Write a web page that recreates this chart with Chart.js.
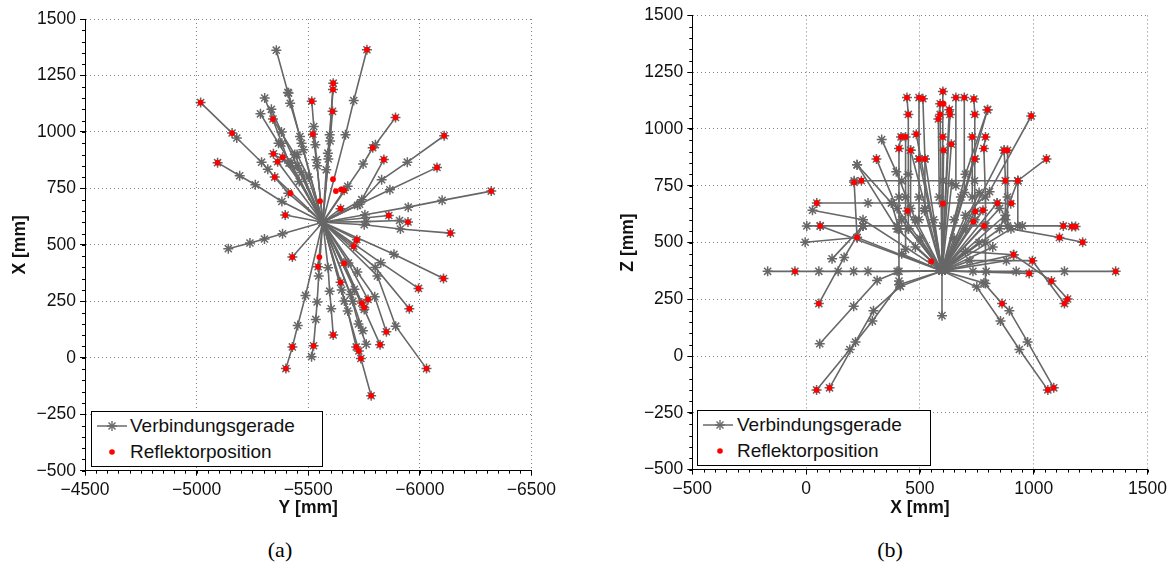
<!DOCTYPE html>
<html>
<head>
<meta charset="utf-8">
<script src="https://cdn.jsdelivr.net/npm/chart.js@4.4.1/dist/chart.umd.min.js"></script>
<style>
    body { margin: 0; background: #ffffff; width: 1171px; height: 563px; overflow: hidden; position: relative; font-family: "Liberation Sans", Arial, sans-serif; }
    canvas { position: absolute; top: 0; }
    .legende { position: absolute; background: #ffffff; border: 1.5px solid #000000; box-sizing: border-box; }
    .legende span { position: absolute; font-size: 19px; line-height: 20px; color: #111111; white-space: nowrap; }
    .legende svg { position: absolute; }
    .caption { position: absolute; top: 537px; font-family: "Liberation Serif", "DejaVu Serif", serif; font-size: 22px; transform: translateX(-50%); }
</style>
</head>
<body>
<canvas id="graficoLinks" width="560" height="520" style="left:0px"></canvas>
<canvas id="graficoRechts" width="563" height="520" style="left:608px"></canvas>

<div class="legende" style="left:91px;top:411px;width:232px;height:56px">
    <svg width="40" height="56" style="left:0;top:0">
        <line x1="5" y1="14" x2="35" y2="14" stroke="#6a6a6a" stroke-width="1.5"/>
        <g stroke="#6a6a6a" stroke-width="1.4">
            <line x1="15" y1="14" x2="25" y2="14"/><line x1="20" y1="9" x2="20" y2="19"/>
            <line x1="16.5" y1="10.5" x2="23.5" y2="17.5"/><line x1="16.5" y1="17.5" x2="23.5" y2="10.5"/>
        </g>
        <circle cx="20" cy="40" r="2.8" fill="#ff0000"/>
    </svg>
    <span style="left:38px;top:4px">Verbindungsgerade</span>
    <span style="left:38px;top:30px">Reflektorposition</span>
</div>
<div class="legende" style="left:697px;top:410px;width:234px;height:56px">
    <svg width="40" height="56" style="left:0;top:0">
        <line x1="5" y1="14" x2="35" y2="14" stroke="#6a6a6a" stroke-width="1.5"/>
        <g stroke="#6a6a6a" stroke-width="1.4">
            <line x1="17" y1="14" x2="27" y2="14"/><line x1="22" y1="9" x2="22" y2="19"/>
            <line x1="18.5" y1="10.5" x2="25.5" y2="17.5"/><line x1="18.5" y1="17.5" x2="25.5" y2="10.5"/>
        </g>
        <circle cx="22" cy="40" r="2.8" fill="#ff0000"/>
    </svg>
    <span style="left:39px;top:4px">Verbindungsgerade</span>
    <span style="left:39px;top:30px">Reflektorposition</span>
</div>

<div class="caption" style="left:280px">(a)</div>
<div class="caption" style="left:890px">(b)</div>

<script>
// (a) Y/X-Ansicht: Geraden vom Zentrum zu den Reflektoren [Y, X] in mm
const linksZentrum = [-5565, 600];
const linksStrahlen = [
    [[-5478, 921], [-5463, 980], [-5419, 1127], [-5409, 1175], [-5357, 1362]],
    [[-5470, 950], [-5412, 1172]],
    [[-5450, 850], [-5380, 1000], [-5335, 1100]],
    [[-5500, 800], [-5450, 900]],
    [[-5667, 987], [-5704, 1139], [-5763, 1364]],
    [[-5581, 832], [-5588, 906], [-5596, 987], [-5612, 1216]],
    [[-5590, 880], [-5611, 1188]],
    [[-5598, 960], [-5609, 1091]],
    [[-5411, 729], [-5319, 835], [-5291, 866], [-5180, 973], [-5159, 995], [-5018, 1130]],
    [[-5382, 692], [-5263, 766], [-5193, 806], [-5094, 864]],
    [[-5414, 862], [-5382, 950], [-5305, 1150]],
    [[-5422, 862], [-5367, 950], [-5286, 1080]],
    [[-5537, 877], [-5532, 943], [-5525, 1024], [-5516, 1136]],
    [[-5677, 759], [-5746, 858], [-5789, 930], [-5801, 943], [-5891, 1064]],
    [[-5721, 675], [-5829, 788], [-5944, 866], [-6109, 983]],
    [[-5740, 700], [-5839, 878]],
    [[-5730, 680], [-5866, 744], [-6077, 843]],
    [[-5754, 633], [-5948, 667], [-6100, 697], [-6320, 738]],
    [[-5751, 589], [-5913, 570], [-6137, 552]],
    [[-5760, 603], [-5909, 608], [-5947, 601]],
    [[-5861, 630]],
    [[-5540, 850], [-5521, 990]],
    [[-5440, 900], [-5342, 1057]],
    [[-5460, 780], [-5385, 888]],
    [[-5470, 820], [-5344, 903]],
    [[-5363, 868]],
    [[-5385, 549], [-5304, 526], [-5239, 508], [-5142, 483]],
    [[-5547, 362], [-5540, 247], [-5534, 170], [-5524, 53], [-5515, 5]],
    [[-5488, 276], [-5453, 143], [-5429, 48], [-5400, -48]],
    [[-5589, 399], [-5596, 295], [-5603, 217], [-5612, 101]],
    [[-5662, 251], [-5677, 207], [-5715, 48], [-5736, -3], [-5782, -168]],
    [[-5650, 300], [-5727, 30]],
    [[-5690, 280], [-5725, 150], [-5760, 60]],
    [[-5700, 250], [-5745, 120]],
    [[-5707, 303], [-5751, 214], [-5822, 58]],
    [[-5720, 380], [-5798, 270], [-5850, 115]],
    [[-5810, 362], [-5892, 140], [-6030, -48]],
    [[-5800, 400], [-5953, 217]],
    [[-5825, 421], [-5994, 307]],
    [[-5884, 458], [-6106, 351]],
    [[-5645, 334]],
    [[-5680, 420], [-5768, 258]],
    [[-5660, 420], [-5740, 242]],
    [[-5751, 223]],
    [[-5544, 403]],
    [[-5429, 446]],
    [[-5350, 800]],
    [[-5397, 632]],
    [[-5645, 660]],
    [[-5661, 742]],
    [[-5704, 494]],
    [[-5718, 523]]
];
const linksReflektoren = [
    [-5763, 1364], [-5612, 1216], [-5611, 1188], [-5609, 1091], [-5018, 1130], [-5516, 1136],
    [-5891, 1064], [-6109, 983], [-5342, 1057], [-5521, 990], [-5094, 864], [-5159, 995],
    [-5344, 903], [-5363, 868], [-5386, 888], [-5789, 930], [-5839, 878], [-6077, 843],
    [-5350, 800], [-5611, 791], [-5624, 738], [-5648, 745], [-5661, 742], [-6320, 738],
    [-5420, 729], [-5645, 660], [-5397, 632], [-5861, 630], [-5947, 601], [-6137, 552],
    [-5553, 694], [-5718, 523], [-5429, 446], [-5550, 446], [-5544, 403], [-5661, 418],
    [-5704, 494], [-5717, 520], [-6106, 351], [-5994, 307], [-5953, 217], [-5645, 334],
    [-5768, 258], [-5740, 242], [-5751, 223], [-5850, 115], [-5822, 58], [-5612, 101],
    [-5429, 48], [-5524, 53], [-5715, 48], [-5727, 30], [-5736, -3], [-5400, -48],
    [-6030, -48], [-5782, -168]
];
const linksTicksX = [-4500, -5000, -5500, -6000, -6500];
const linksTicksY = [-500, -250, 0, 250, 500, 750, 1000, 1250, 1500];

// (b) X/Z-Ansicht [X, Z] in mm
const rechtsZentrum = [597, 375];
const rechtsStrahlen = [
    [[400, 373], [272, 373], [209, 373], [141, 373], [56, 373], [-49, 373], [-169, 373]],
    [[733, 373], [791, 373], [923, 373], [1135, 373], [1360, 373]],
    [[597, 178]],
    [[600, 671], [600, 965], [601, 1165]],
    [[700, 620], [806, 724], [989, 1057]],
    [[850, 560], [930, 772], [1056, 868]],
    [[480, 600], [396, 811], [332, 953]],
    [[400, 560], [224, 842]],
    [[420, 600], [309, 868]],
    [[250, 600], [28, 642]],
    [[224, 522], [-4, 501]],
    [[900, 560], [1113, 522], [1215, 501]],
    [[700, 460], [912, 446], [1078, 330], [1149, 251]],
    [[720, 420], [994, 420], [1135, 231]],
    [[408, 373], [312, 333], [209, 219], [60, 54]],
    [[408, 314], [291, 154], [192, 29], [46, -149]],
    [[414, 307], [296, 200], [217, 62], [103, -140]],
    [[750, 304], [854, 154], [937, 29], [1062, -149]],
    [[781, 322], [861, 231], [893, 200], [973, 62], [1088, -140]],
    [[445, 639]], [[743, 637]], [[777, 642]], [[839, 674]], [[782, 573]],
    [[980, 364]], [[62, 573]], [[459, 906]], [[638, 933]], [[604, 906]],
    [[484, 977]], [[629, 1085]], [[632, 1064]], [[589, 1064]], [[550, 417]],
    [[735, 592]], [[911, 446]], [[797, 1085]], [[741, 868]], [[522, 868]],
    [[496, 868]], [[870, 906]], [[875, 620]], [[520, 640]], [[680, 700]],
    [[450, 560]], [[500, 520]], [[650, 520]], [[700, 560]], [[760, 500]],
    [[820, 480]], [[420, 450]], [[480, 480]], [[880, 420]], [[850, 650]],
    [[400, 650]], [[560, 600]], [[640, 760]], [[760, 720]]
];
const rechtsPfade = [
    [[3, 573], [62, 573], [250, 573], [400, 573], [600, 573], [790, 573], [950, 573], [1130, 573], [1167, 570], [1184, 570]],
    [[47, 674], [272, 674], [375, 674], [600, 674], [839, 674], [899, 671]],
    [[211, 772], [243, 772], [420, 772], [600, 772], [740, 772], [876, 772], [930, 772]],
    [[417, 965], [408, 914], [408, 700], [408, 560], [408, 330]],
    [[437, 965], [437, 700], [437, 470]],
    [[443, 1138], [449, 1064], [449, 800], [449, 560]],
    [[496, 1138], [496, 868], [496, 700], [496, 600]],
    [[513, 1133], [522, 868], [522, 650]],
    [[459, 906], [459, 650]],
    [[589, 1111], [581, 1044], [585, 700]],
    [[658, 1138], [658, 750]],
    [[695, 1138], [695, 720]],
    [[737, 1132], [741, 1064], [741, 868], [741, 600]],
    [[788, 965], [781, 914], [788, 700], [788, 500], [788, 320]],
    [[797, 1085], [700, 800], [650, 600]],
    [[870, 906], [876, 772], [876, 600]],
    [[885, 906], [885, 700], [885, 573]],
    [[930, 772], [930, 573]],
    [[211, 765], [224, 522]],
    [[56, 231], [167, 434], [250, 573]],
    [[114, 428], [250, 573]],
    [[224, 842], [375, 674], [408, 560]],
    [[730, 965], [730, 700]]
];
const rechtsReflektoren = [
    [601, 1165], [443, 1138], [496, 1138], [513, 1133], [658, 1138], [695, 1138], [737, 1132],
    [589, 1111], [604, 1111], [449, 1064], [589, 1064], [629, 1085], [632, 1064], [741, 1064],
    [797, 1085], [581, 1044], [989, 1057], [417, 965], [437, 965], [600, 965], [730, 965],
    [788, 965], [484, 977], [638, 933], [408, 914], [459, 906], [604, 906], [781, 914],
    [870, 906], [885, 906], [496, 868], [522, 868], [741, 868], [1056, 868], [309, 868],
    [211, 765], [243, 772], [876, 772], [930, 772], [47, 674], [601, 671], [445, 639],
    [743, 637], [777, 642], [841, 673], [902, 673], [62, 573], [1130, 573], [1167, 570],
    [1184, 570], [1113, 522], [1215, 501], [782, 573], [735, 592], [911, 446], [994, 420],
    [224, 522], [-49, 373], [1360, 373], [56, 231], [46, -149], [103, -140], [861, 231],
    [1062, -149], [1088, -140], [1149, 251], [1135, 231], [1078, 330], [980, 364], [550, 417]
];
const rechtsTicksX = [-500, 0, 500, 1000, 1500];
const rechtsTicksY = [-500, -250, 0, 250, 500, 750, 1000, 1250, 1500];

const GRAU = "#676767";

function punkte(lista) {
    return lista.map((p) => ({ x: p[0], y: p[1] }));
}

function criarDatasets(zentrum, strahlen, pfade, reflektoren) {
    const datasets = [{
        data: punkte(reflektoren),
        showLine: false,
        pointStyle: "circle",
        pointRadius: 2.9,
        pointBackgroundColor: "#ff0000",
        pointBorderWidth: 0,
        order: 0
    }];
    const linien = strahlen.map((s) => [zentrum].concat(s)).concat(pfade);
    linien.forEach((linie) => {
        datasets.push({
            data: punkte(linie),
            showLine: true,
            borderColor: GRAU,
            borderWidth: 1.6,
            pointStyle: "star",
            pointRadius: 5,
            pointBorderColor: GRAU,
            pointBorderWidth: 1.5,
            order: 1
        });
    });
    return datasets;
}

// kleine Zwischenstriche alle 50 mm
const nebenStriche = {
    id: "nebenStriche",
    afterDraw(chart) {
        const { ctx, chartArea, scales } = chart;
        ctx.save();
        ctx.strokeStyle = "#000000";
        ctx.lineWidth = 1;
        ctx.beginPath();
        const x = scales.x;
        for (let v = Math.min(x.min, x.max); v <= Math.max(x.min, x.max); v += 50) {
            const px = Math.round(x.getPixelForValue(v)) + 0.5;
            ctx.moveTo(px, chartArea.bottom);
            ctx.lineTo(px, chartArea.bottom + 3);
        }
        const y = scales.y;
        for (let v = y.min; v <= y.max; v += 50) {
            const py = Math.round(y.getPixelForValue(v)) + 0.5;
            ctx.moveTo(chartArea.left, py);
            ctx.lineTo(chartArea.left - 3, py);
        }
        ctx.stroke();
        ctx.restore();
    }
};

function formatar(v) {
    return String(v).replace("-", "\u2212");
}

function achse(titel, ticks, min, max, umgekehrt, fit) {
    return {
        type: "linear",
        min: min,
        max: max,
        reverse: umgekehrt,
        afterBuildTicks: (s) => { s.ticks = ticks.map((v) => ({ value: v })); },
        afterFit: fit,
        grid: {
            color: "#808080",
            lineWidth: 1,
            tickColor: "#000000",
            tickLength: 5,
            tickBorderDash: []
        },
        border: {
            display: true,
            color: "#000000",
            width: 1,
            dash: [1, 3]
        },
        ticks: {
            padding: 4,
            color: "#111111",
            callback: formatar,
            font: { family: "Liberation Sans", size: 17.5 }
        },
        title: {
            display: true,
            text: titel,
            color: "#111111",
            font: { family: "Liberation Sans", size: 17.5, weight: "bold" },
            padding: { top: 10, bottom: 1.5 }
        }
    };
}

function criarGrafico(id, datasets, cfg) {
    const ctx = document.getElementById(id).getContext("2d");
    return new Chart(ctx, {
        type: "scatter",
        data: { datasets: datasets },
        options: {
            responsive: false,
            animation: false,
            layout: { padding: { top: cfg.oben, right: cfg.rechts, left: 0, bottom: 0 } },
            plugins: { legend: { display: false }, tooltip: { enabled: false } },
            scales: {
                x: achse(cfg.titelX, cfg.ticksX, cfg.minX, cfg.maxX, cfg.umgekehrt, (s) => { s.height = cfg.hoeheX; }),
                y: achse(cfg.titelY, cfg.ticksY, -500, 1500, false, (s) => { s.width = cfg.breiteY; })
            }
        },
        plugins: [nebenStriche]
    });
}

criarGrafico("graficoLinks", criarDatasets(linksZentrum, linksStrahlen, [], linksReflektoren), {
    titelX: "Y [mm]", titelY: "X [mm]",
    ticksX: linksTicksX, ticksY: linksTicksY,
    minX: -6500, maxX: -4500, umgekehrt: true,
    oben: 19, rechts: 24, hoeheX: 49.3, breiteY: 85
});

criarGrafico("graficoRechts", criarDatasets(rechtsZentrum, rechtsStrahlen, rechtsPfade, rechtsReflektoren), {
    titelX: "X [mm]", titelY: "Z [mm]",
    ticksX: rechtsTicksX, ticksY: rechtsTicksY,
    minX: -500, maxX: 1500, umgekehrt: false,
    oben: 15.4, rechts: 23, hoeheX: 50.4, breiteY: 84.3
});
</script>
</body>
</html>
